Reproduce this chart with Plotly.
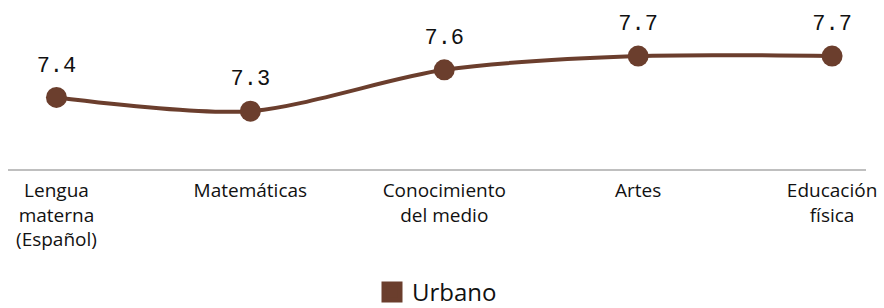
import plotly.graph_objects as go

categories = ["Lengua<br>materna<br>(Español)", "Matemáticas", "Conocimiento<br>del medio", "Artes", "Educación<br>física"]
values = [7.4, 7.3, 7.6, 7.7, 7.7]
labels = ["7.4", "7.3", "7.6", "7.7", "7.7"]
series_name = "Urbano"
color = "#6B3E2D"

x_idx = list(range(len(categories)))

fig = go.Figure()
fig.add_trace(go.Scatter(
    x=x_idx, y=values, mode="lines+markers",
    line=dict(color=color, width=4, shape="spline", smoothing=0.8),
    marker=dict(color=color, size=21),
    showlegend=False, cliponaxis=False, hoverinfo="skip",
))
# data labels (transparent markers give the label offset above each point)
fig.add_trace(go.Scatter(
    x=x_idx, y=values, mode="markers+text",
    marker=dict(color="rgba(0,0,0,0)", size=31),
    text=labels, textposition="top center",
    textfont=dict(family="Liberation Mono", size=22, color="#111111"),
    showlegend=False, cliponaxis=False,
))
fig.add_trace(go.Scatter(
    x=[None], y=[None], mode="markers", name=series_name,
    marker=dict(color=color, size=16, symbol="square", line=dict(color=color, width=5)),
    showlegend=True,
))

fig.update_layout(
    width=884, height=308,
    margin=dict(l=8, r=18, t=1, b=139, autoexpand=False),
    plot_bgcolor="white", paper_bgcolor="white",
    xaxis=dict(
        range=[-0.25, 4.175], tickmode="array", tickvals=x_idx, ticktext=categories,
        showgrid=False, zeroline=False, showline=True, linecolor="#BFBFBF", linewidth=2,
        tickfont=dict(family="Open Sans", size=19, color="#111111"),
        ticks="outside", ticklen=3, tickcolor="rgba(0,0,0,0)",
        automargin=False, ticklabeloverflow="allow",
    ),
    yaxis=dict(range=[6.88, 8.1], visible=False, automargin=False),
    legend=dict(
        orientation="h", x=0.5, xanchor="center", y=-0.735, yanchor="middle",
        font=dict(family="Open Sans", size=24, color="#111111"),
        itemsizing="trace",
    ),
)

fig.write_html("out.html", config={"displayModeBar": False},
               post_script="document.body.style.margin='0px';")
